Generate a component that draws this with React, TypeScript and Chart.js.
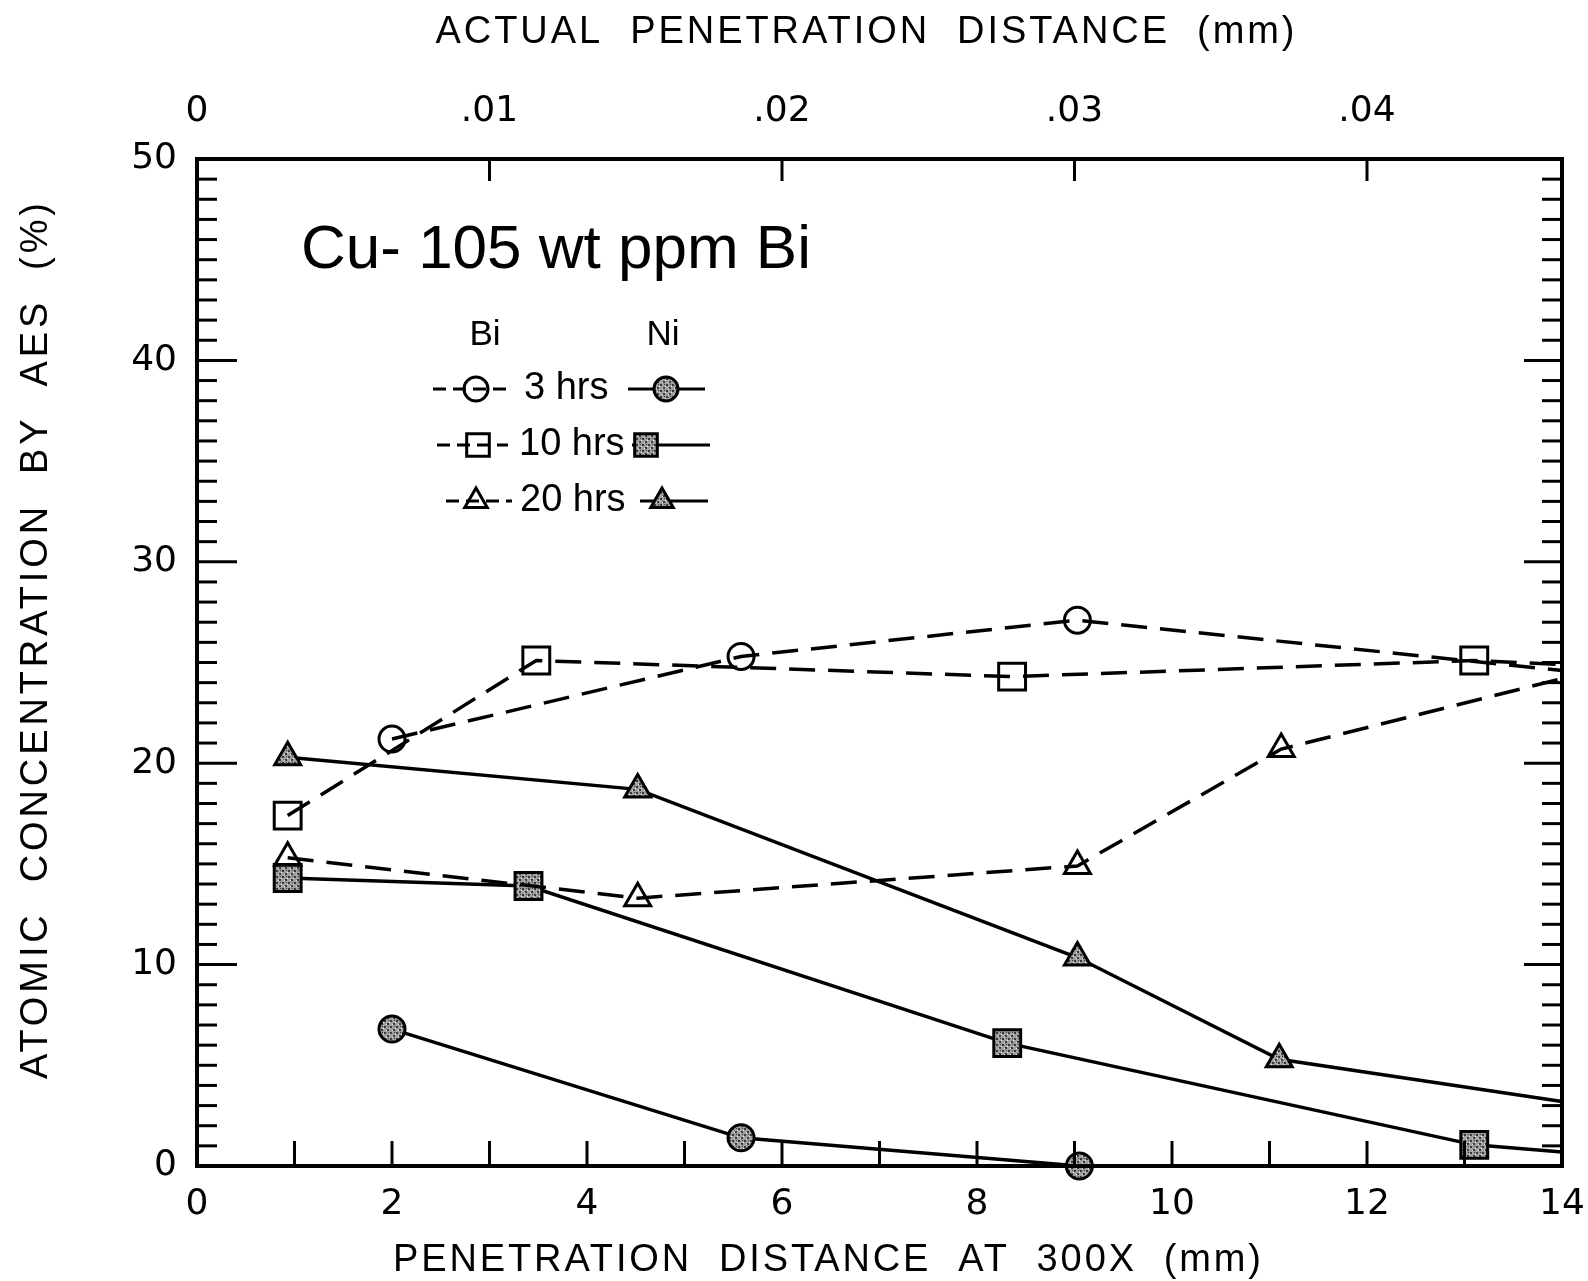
import React, { useEffect, useRef } from 'react';
import { Chart, registerables } from 'chart.js';

Chart.register(...registerables);

// ---- axes ----
const X_MIN = 0;
const X_MAX = 14;
const Y_MIN = 0;
const Y_MAX = 50;
const MAGNIFICATION = 300;
const bottomTicks = [0, 2, 4, 6, 8, 10, 12, 14];
const topTicks = [0, 0.01, 0.02, 0.03, 0.04];
const topTickLabels = ['0', '.01', '.02', '.03', '.04'];
const yTicks = [0, 10, 20, 30, 40, 50];

// ---- texts ----
const chartTitle = 'Cu- 105 wt ppm Bi';
const bottomTitle = 'PENETRATION  DISTANCE  AT  300X  (mm)';
const topTitle = 'ACTUAL  PENETRATION  DISTANCE  (mm)';
const leftTitle = 'ATOMIC  CONCENTRATION  BY  AES  (%)';
const legendHeaders = ['Bi', 'Ni'];
const legendRows = ['3 hrs', '10 hrs', '20 hrs'];

// ---- series (last point at x = 14 is where the line leaves the frame) ----
const bi3hX = [2.0, 5.58, 9.03, 14.0];
const bi3hY = [21.2, 25.3, 27.1, 24.6];
const bi10hX = [0.93, 3.48, 8.36, 13.1, 14.0];
const bi10hY = [17.4, 25.1, 24.3, 25.1, 24.9];
const bi20hX = [0.93, 4.52, 9.03, 11.12, 14.0];
const bi20hY = [15.3, 13.3, 14.9, 20.7, 24.2];
const ni3hX = [2.0, 5.58, 9.05];
const ni3hY = [6.8, 1.4, 0.0];
const ni10hX = [0.93, 3.4, 8.31, 13.1, 14.0];
const ni10hY = [14.3, 13.9, 6.1, 1.05, 0.7];
const ni20hX = [0.93, 4.52, 9.03, 11.1, 14.0];
const ni20hY = [20.3, 18.7, 10.35, 5.3, 3.2];

const FONT = "'Liberation Sans', 'DejaVu Sans', sans-serif";
const TICK_FONT = "'DejaVu Sans', 'Liberation Sans', sans-serif";
const DASH = [26, 13];
const R_CIRCLE = 13;
const R_RECT = 19;
const R_TRI = 15;
const LINE_W = 3.5;

function pts(xs: number[], ys: number[]) {
  return xs.map((x, i) => ({ x, y: ys[i] }));
}

function makeStipple(): CanvasPattern | string {
  const c = document.createElement('canvas');
  c.width = 6;
  c.height = 6;
  const g = c.getContext('2d');
  if (!g) return '#999';
  g.fillStyle = '#a0a0a0';
  g.fillRect(0, 0, 6, 6);
  g.fillStyle = '#3a3a3a';
  g.fillRect(0, 0, 2, 2);
  g.fillRect(3, 3, 2, 2);
  g.fillRect(4, 0, 1, 1);
  g.fillStyle = '#e8e8e8';
  g.fillRect(2, 4, 1, 1);
  g.fillRect(5, 2, 1, 1);
  const p = g.createPattern(c, 'repeat');
  return p || '#999';
}

function drawMarker(ctx: CanvasRenderingContext2D, style: string, x: number, y: number, r: number, fill: any) {
  ctx.beginPath();
  if (style === 'circle') {
    ctx.arc(x, y, r, 0, Math.PI * 2);
  } else if (style === 'rect') {
    const s = r * Math.SQRT1_2;
    ctx.rect(x - s, y - s, 2 * s, 2 * s);
  } else {
    let a = 0;
    ctx.moveTo(x + Math.sin(a) * r, y - Math.cos(a) * r);
    a += (2 * Math.PI) / 3;
    ctx.lineTo(x + Math.sin(a) * r, y - Math.cos(a) * r);
    a += (2 * Math.PI) / 3;
    ctx.lineTo(x + Math.sin(a) * r, y - Math.cos(a) * r);
    ctx.closePath();
  }
  if (fill) {
    ctx.fillStyle = fill;
    ctx.fill();
  }
  ctx.stroke();
}

function drawSpaced(ctx: CanvasRenderingContext2D, text: string, cx: number, cy: number, target: number) {
  ctx.save();
  const anyCtx = ctx as any;
  anyCtx.letterSpacing = '0px';
  const w0 = ctx.measureText(text).width;
  const n = Array.from(text).length;
  const s = Math.max(0, (target - w0) / (n - 1));
  anyCtx.letterSpacing = s + 'px';
  ctx.textAlign = 'left';
  ctx.textBaseline = 'middle';
  ctx.fillText(text, cx - target / 2, cy);
  ctx.restore();
}

export default function App() {
  const ref = useRef<HTMLCanvasElement | null>(null);

  useEffect(() => {
    document.body.style.margin = '0';
    const canvas = ref.current;
    if (!canvas) return;
    const ctx0 = canvas.getContext('2d');
    if (!ctx0) return;
    const stipple = makeStipple();

    const radiusFor = (r: number) => (c: any) => (c.raw && c.raw.x >= X_MAX ? 0 : r);

    const base = {
      borderColor: '#000',
      borderWidth: LINE_W,
      pointBorderColor: '#000',
      pointBorderWidth: 3,
      tension: 0,
      fill: false,
      showLine: true,
      clip: false as any,
      xAxisID: 'x',
      yAxisID: 'y',
    };

    const frame = {
      id: 'frame',
      afterDraw(chart: any) {
        const ctx: CanvasRenderingContext2D = chart.ctx;
        const { left, right, top, bottom } = chart.chartArea;
        const xs = chart.scales.x;
        const ys = chart.scales.y;
        const xt = chart.scales.x2;
        ctx.save();
        ctx.strokeStyle = '#000';
        ctx.fillStyle = '#000';
        ctx.lineCap = 'butt';
        // frame
        ctx.lineWidth = 4;
        ctx.strokeRect(left, top, right - left, bottom - top);
        ctx.lineWidth = 3;
        const line = (x1: number, y1: number, x2: number, y2: number) => {
          ctx.beginPath();
          ctx.moveTo(x1, y1);
          ctx.lineTo(x2, y2);
          ctx.stroke();
        };
        // left/right inward ticks
        for (let v = Y_MIN + 1; v < Y_MAX; v += 1) {
          const py = ys.getPixelForValue(v);
          const major = v % 10 === 0;
          line(left, py, left + (major ? 40 : 20), py);
          line(right, py, right - (major ? 38 : 20), py);
        }
        // bottom inward ticks
        for (let v = X_MIN + 1; v < X_MAX; v += 1) {
          const px = xs.getPixelForValue(v);
          line(px, bottom, px, bottom - 25);
        }
        // top inward ticks
        topTicks.forEach((v) => {
          if (v === 0) return;
          const px = xt.getPixelForValue(v);
          line(px, top, px, top + 22);
        });

        // titles
        ctx.fillStyle = '#000';
        ctx.font = `38px ${FONT}`;
        drawSpaced(ctx, bottomTitle, 827, bottom + 95, 868);
        drawSpaced(ctx, topTitle, 865, 33, 859);
        ctx.save();
        ctx.translate(37, 641);
        ctx.rotate(-Math.PI / 2);
        drawSpaced(ctx, leftTitle, 0, 0, 876);
        ctx.restore();

        // chart title
        ctx.font = `62px ${FONT}`;
        drawSpaced(ctx, chartTitle, 301 + 253, 251, 506);

        // legend
        ctx.font = `35px ${FONT}`;
        ctx.textAlign = 'center';
        ctx.textBaseline = 'middle';
        ctx.fillText(legendHeaders[0], 485, 335);
        ctx.fillText(legendHeaders[1], 663, 335);
        const rowsY = [389, 445, 501];
        const styles = ['circle', 'rect', 'triangle'];
        const legR = [12, 16, 13];
        const biSeg = [[433, 510, 476], [437, 508, 478], [446, 512, 476]];
        const niSeg = [[628, 705, 666], [632, 710, 646], [640, 708, 662]];
        const textX = [524, 519, 520];
        ctx.font = `38px ${FONT}`;
        rowsY.forEach((y, i) => {
          ctx.lineWidth = 3;
          ctx.setLineDash([13, 7]);
          line(biSeg[i][0], y, biSeg[i][1], y);
          ctx.setLineDash([]);
          drawMarker(ctx, styles[i], biSeg[i][2], y, legR[i], null);
          line(niSeg[i][0], y, niSeg[i][1], y);
          drawMarker(ctx, styles[i], niSeg[i][2], y, legR[i], stipple);
          ctx.fillStyle = '#000';
          ctx.textAlign = 'left';
          ctx.fillText(legendRows[i], textX[i], y);
        });
        ctx.restore();
      },
    };

    const tickFont = { family: TICK_FONT, size: 36 };
    const noSidePad = (s: any) => {
      s.paddingLeft = 0;
      s.paddingRight = 0;
    };

    const chart = new Chart(ctx0, {
      type: 'line',
      data: {
        datasets: [
          { ...base, label: 'Bi 3 hrs', data: pts(bi3hX, bi3hY), borderDash: DASH, pointStyle: 'circle', pointRadius: radiusFor(R_CIRCLE), pointBackgroundColor: 'rgba(0,0,0,0)' },
          { ...base, label: 'Bi 10 hrs', data: pts(bi10hX, bi10hY), borderDash: DASH, pointStyle: 'rect', pointRadius: radiusFor(R_RECT), pointBackgroundColor: 'rgba(0,0,0,0)' },
          { ...base, label: 'Bi 20 hrs', data: pts(bi20hX, bi20hY), borderDash: DASH, pointStyle: 'triangle', pointRadius: radiusFor(R_TRI), pointBackgroundColor: 'rgba(0,0,0,0)' },
          { ...base, label: 'Ni 3 hrs', data: pts(ni3hX, ni3hY), pointStyle: 'circle', pointRadius: radiusFor(R_CIRCLE), pointBackgroundColor: stipple },
          { ...base, label: 'Ni 10 hrs', data: pts(ni10hX, ni10hY), pointStyle: 'rect', pointRadius: radiusFor(R_RECT), pointBackgroundColor: stipple },
          { ...base, label: 'Ni 20 hrs', data: pts(ni20hX, ni20hY), pointStyle: 'triangle', pointRadius: radiusFor(R_TRI), pointBackgroundColor: stipple },
        ] as any,
      },
      options: {
        responsive: false,
        animation: false,
        devicePixelRatio: 1,
        layout: { padding: { left: 0, right: 26, top: 0, bottom: 0 } },
        plugins: { legend: { display: false }, tooltip: { enabled: false }, title: { display: false } },
        scales: {
          x: {
            type: 'linear',
            position: 'bottom',
            min: X_MIN,
            max: X_MAX,
            grid: { display: false, drawTicks: false },
            border: { display: false },
            afterBuildTicks: (s: any) => {
              s.ticks = bottomTicks.map((v) => ({ value: v }));
            },
            afterFit: (s: any) => {
              s.height = 115;
              noSidePad(s);
            },
            ticks: {
              autoSkip: false,
              maxRotation: 0,
              padding: 17,
              color: '#000',
              font: tickFont,
              callback: (v: any) => String(v),
            },
          },
          x2: {
            type: 'linear',
            position: 'top',
            min: X_MIN / MAGNIFICATION,
            max: X_MAX / MAGNIFICATION,
            grid: { display: false, drawTicks: false },
            border: { display: false },
            afterBuildTicks: (s: any) => {
              s.ticks = topTicks.map((v) => ({ value: v }));
            },
            afterFit: (s: any) => {
              s.height = 159;
              noSidePad(s);
            },
            ticks: {
              autoSkip: false,
              maxRotation: 0,
              padding: 26,
              color: '#000',
              font: tickFont,
              callback: (v: any) => {
                const i = topTicks.findIndex((t) => Math.abs(t - v) < 1e-9);
                return i >= 0 ? topTickLabels[i] : '';
              },
            },
          },
          y: {
            type: 'linear',
            position: 'left',
            min: Y_MIN,
            max: Y_MAX,
            grid: { display: false, drawTicks: false },
            border: { display: false },
            afterBuildTicks: (s: any) => {
              s.ticks = yTicks.map((v) => ({ value: v }));
            },
            afterFit: (s: any) => {
              s.width = 197;
              s.paddingTop = 0;
              s.paddingBottom = 0;
            },
            ticks: {
              padding: 20,
              color: '#000',
              font: tickFont,
              callback: (v: any) => String(v),
            },
          },
        },
      } as any,
      plugins: [frame],
    });

    return () => chart.destroy();
  }, []);

  return (
    <div style={{ width: 1588, height: 1281, background: '#fff' }}>
      <canvas ref={ref} width={1588} height={1281} style={{ display: 'block', width: 1588, height: 1281 }} />
    </div>
  );
}
